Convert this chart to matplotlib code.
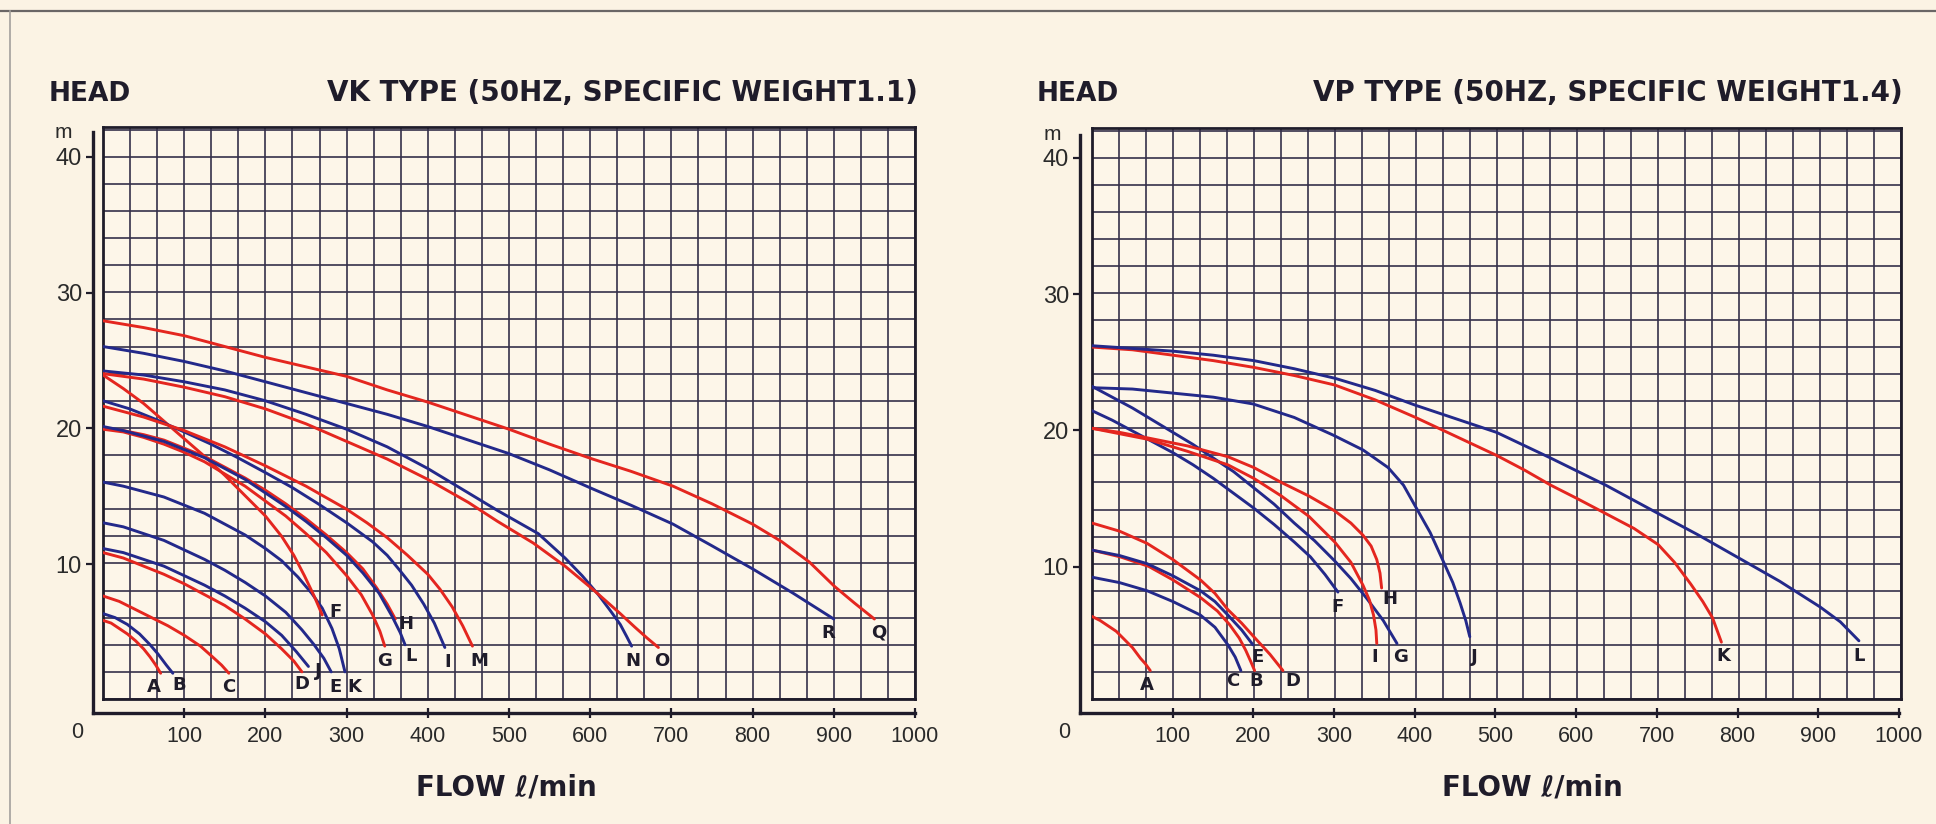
import matplotlib
matplotlib.use("Agg")
import matplotlib.pyplot as plt
from matplotlib.lines import Line2D
import numpy as np

# ---- VK type (50Hz, specific weight 1.1): (flow l/min, head m)
vk_a = [(0, 5.8), (10, 5.6), (20, 5.2), (30, 4.8), (40, 4.3), (50, 3.7), (58, 3.1), (65, 2.5), (71, 1.9)]
vk_b = [(0, 6.3), (15, 6.0), (30, 5.5), (45, 4.8), (58, 4.0), (68, 3.3), (78, 2.5), (86, 1.9)]
vk_c = [(0, 7.6), (20, 7.2), (40, 6.6), (60, 6.0), (80, 5.4), (100, 4.7), (120, 3.9), (135, 3.1),
        (146, 2.5), (155, 1.9)]
vk_d = [(0, 10.8), (25, 10.4), (50, 9.8), (75, 9.2), (100, 8.5), (125, 7.7), (150, 6.9), (175, 5.9),
        (200, 4.8), (220, 3.7), (235, 2.8), (245, 2.0)]
vk_j = [(0, 11.1), (25, 10.8), (50, 10.3), (75, 9.8), (100, 9.1), (125, 8.4), (150, 7.6), (175, 6.7),
        (200, 5.7), (220, 4.7), (238, 3.5), (253, 2.4)]
vk_e = [(0, 13.0), (25, 12.7), (50, 12.2), (75, 11.7), (100, 11.0), (125, 10.3), (150, 9.5), (175, 8.6),
        (200, 7.6), (225, 6.4), (245, 5.1), (260, 4.0), (272, 3.0), (281, 2.0)]
vk_k = [(0, 16.0), (25, 15.7), (50, 15.3), (75, 14.9), (100, 14.3), (125, 13.7), (150, 12.9), (175, 12.1),
        (200, 11.1), (220, 10.2), (240, 9.0), (257, 7.8), (270, 6.7), (282, 5.2), (291, 3.7), (298, 2.0)]
vk_f = [(0, 23.9), (25, 22.9), (50, 21.8), (75, 20.5), (100, 19.2), (125, 17.9), (150, 16.5), (175, 15.0),
        (200, 13.5), (220, 12.0), (235, 10.6), (248, 9.1), (260, 7.6), (270, 6.2)]
vk_g = [(0, 19.9), (25, 19.7), (50, 19.3), (75, 18.8), (100, 18.2), (125, 17.5), (150, 16.6), (175, 15.7),
        (200, 14.6), (225, 13.5), (250, 12.2), (275, 10.8), (300, 9.1), (318, 7.7), (332, 6.2), (341, 5.0),
        (347, 3.9)]
vk_h = [(0, 20.0), (25, 19.8), (50, 19.5), (75, 19.1), (100, 18.5), (125, 17.9), (150, 17.1), (175, 16.3),
        (200, 15.4), (225, 14.4), (250, 13.3), (275, 12.1), (300, 10.8), (320, 9.6), (337, 8.2), (350, 7.0),
        (360, 5.9)]
vk_l = [(0, 20.1), (25, 19.8), (50, 19.4), (75, 19.0), (100, 18.4), (125, 17.8), (150, 17.0), (175, 16.2),
        (200, 15.2), (225, 14.2), (250, 13.1), (275, 11.9), (300, 10.6), (320, 9.3), (340, 7.8), (356, 6.1),
        (366, 4.9), (372, 4.0)]
vk_i = [(0, 22.0), (33, 21.4), (66, 20.6), (100, 19.7), (133, 18.8), (166, 17.8), (200, 16.7), (233, 15.6),
        (265, 14.4), (300, 13.0), (332, 11.6), (350, 10.6), (364, 9.6), (380, 8.4), (395, 7.0), (408, 5.6),
        (421, 3.8)]
vk_m = [(0, 21.6), (50, 20.8), (100, 19.8), (150, 18.6), (200, 17.2), (250, 15.7), (300, 14.0), (325, 13.0),
        (350, 11.9), (375, 10.6), (400, 9.2), (415, 8.1), (430, 6.8), (443, 5.4), (455, 3.9)]
vk_n = [(0, 24.2), (50, 23.9), (100, 23.4), (150, 22.8), (200, 22.0), (250, 21.0), (300, 19.9), (350, 18.6),
        (400, 17.0), (450, 15.2), (486, 13.9), (536, 12.2), (569, 10.4), (590, 9.1), (610, 7.7), (625, 6.5),
        (637, 5.5), (645, 4.6), (651, 3.9)]
vk_o = [(0, 24.0), (50, 23.6), (100, 23.0), (150, 22.3), (200, 21.4), (250, 20.3), (300, 19.0), (350, 17.7),
        (400, 16.2), (450, 14.5), (486, 13.1), (530, 11.5), (569, 9.8), (603, 8.1), (637, 6.3), (655, 5.3),
        (670, 4.5), (684, 3.8)]
vk_r = [(0, 26.0), (50, 25.5), (100, 24.9), (150, 24.2), (200, 23.4), (250, 22.6), (300, 21.8), (350, 21.0),
        (400, 20.1), (450, 19.1), (500, 18.1), (550, 16.9), (603, 15.5), (650, 14.3), (702, 12.9), (750, 11.3),
        (800, 9.6), (850, 7.8), (900, 5.9)]
vk_q = [(0, 27.9), (50, 27.4), (100, 26.8), (150, 26.0), (200, 25.2), (250, 24.5), (300, 23.8), (350, 22.8),
        (400, 21.9), (450, 20.9), (500, 19.9), (550, 18.8), (603, 17.7), (650, 16.8), (702, 15.7), (750, 14.4),
        (800, 12.9), (836, 11.6), (870, 10.1), (901, 8.3), (925, 7.1), (950, 5.9)]

# ---- VP type (50Hz, specific weight 1.4)
vp_a = [(0, 6.1), (10, 5.8), (20, 5.4), (30, 5.0), (40, 4.4), (50, 3.8), (60, 3.0), (66, 2.6), (72, 2.1)]
vp_c = [(0, 9.0), (34, 8.6), (68, 8.0), (100, 7.2), (134, 6.2), (152, 5.3), (168, 4.0), (177, 3.1), (184, 2.1)]
vp_b = [(0, 11.0), (35, 10.5), (70, 9.8), (100, 8.8), (134, 7.5), (155, 6.5), (170, 5.5), (182, 4.5),
        (190, 3.6), (196, 2.8), (201, 2.1)]
vp_e = [(0, 11.0), (34, 10.6), (68, 10.0), (100, 9.1), (134, 8.0), (152, 7.2), (168, 6.2), (185, 5.1), (199, 4.0)]
vp_d = [(0, 13.0), (34, 12.4), (68, 11.5), (100, 10.3), (134, 8.8), (152, 7.8), (168, 6.6), (185, 5.6),
        (200, 4.6), (220, 3.3), (236, 2.1)]
vp_f = [(0, 21.3), (25, 20.6), (50, 19.8), (75, 19.0), (100, 18.2), (125, 17.3), (150, 16.3), (175, 15.2),
        (200, 14.1), (225, 12.9), (250, 11.6), (270, 10.5), (288, 9.2), (304, 7.9)]
vp_g = [(0, 23.1), (25, 22.3), (50, 21.5), (75, 20.6), (100, 19.7), (125, 18.8), (150, 17.8), (175, 16.8),
        (200, 15.6), (225, 14.4), (250, 13.0), (275, 11.7), (300, 10.2), (320, 8.9), (340, 7.4), (360, 5.8),
        (377, 4.1)]
vp_h = [(0, 20.0), (34, 19.7), (68, 19.3), (118, 18.7), (168, 17.9), (200, 17.1), (234, 16.0), (268, 15.0),
        (300, 13.9), (320, 13.0), (335, 12.1), (345, 11.3), (352, 10.3), (356, 9.3), (358, 8.2)]
vp_i = [(0, 20.0), (34, 19.6), (68, 19.2), (118, 18.3), (168, 17.3), (200, 16.3), (234, 15.0), (268, 13.5),
        (300, 11.6), (320, 10.1), (335, 8.4), (343, 7.3), (348, 6.2), (351, 5.1), (352, 4.1)]
vp_j = [(0, 23.0), (50, 22.9), (100, 22.6), (150, 22.3), (199, 21.8), (250, 20.8), (298, 19.5), (335, 18.4),
        (366, 17.1), (385, 15.8), (401, 14.1), (418, 12.3), (434, 10.2), (446, 8.6), (455, 7.1), (462, 5.8),
        (467, 4.6)]
vp_k = [(0, 26.0), (50, 25.8), (100, 25.4), (150, 25.0), (200, 24.5), (250, 23.9), (300, 23.2), (350, 22.1),
        (400, 20.8), (450, 19.4), (500, 18.0), (535, 16.9), (567, 15.8), (600, 14.8), (635, 13.7), (670, 12.6),
        (700, 11.4), (720, 10.1), (740, 8.5), (755, 7.2), (767, 6.0), (778, 4.2)]
vp_l = [(0, 26.1), (50, 25.9), (100, 25.7), (150, 25.4), (200, 25.0), (250, 24.4), (300, 23.7), (350, 22.8),
        (400, 21.7), (450, 20.7), (500, 19.7), (567, 17.8), (635, 15.8), (700, 13.7), (750, 12.1), (800, 10.4),
        (850, 8.7), (900, 6.8), (925, 5.7), (948, 4.3)]

head_ticks = [10, 20, 30, 40]
flow_ticks = [100, 200, 300, 400, 500, 600, 700, 800, 900, 1000]

vk_curves = [('A', vk_a), ('B', vk_b), ('C', vk_c), ('D', vk_d), ('J', vk_j), ('E', vk_e),
             ('K', vk_k), ('F', vk_f), ('G', vk_g), ('H', vk_h), ('L', vk_l), ('I', vk_i),
             ('M', vk_m), ('N', vk_n), ('O', vk_o), ('R', vk_r), ('Q', vk_q)]
vp_curves = [('A', vp_a), ('C', vp_c), ('B', vp_b), ('E', vp_e), ('D', vp_d), ('F', vp_f),
             ('G', vp_g), ('H', vp_h), ('I', vp_i), ('J', vp_j), ('K', vp_k), ('L', vp_l)]

# styling
W, H = 1936, 824
paper = '#fbf3e4'
grid_bg = '#fdf6e9'
ink = '#1f1c2a'
grid_col = '#35304a'
red = '#e4261f'
blue = '#23298a'

vk_red = set('ACDFGHMOQ')
vp_red = set('ABDHIK')

# label offsets from curve end (flow, head)
vk_offsets = {'A': (-8, -1.0), 'B': (8, -0.9), 'C': (0, -1.0), 'D': (0, -0.9), 'J': (12, -0.3),
              'E': (5, -1.1), 'K': (12, -1.1), 'F': (16, 0.2), 'G': (0, -1.1), 'L': (8, -0.8),
              'H': (13, -0.4), 'I': (3, -1.1), 'M': (8, -1.1), 'N': (2, -1.1), 'O': (4, -1.0),
              'R': (-7, -1.0), 'Q': (5, -1.0)}
vp_offsets = {'A': (-4, -1.1), 'C': (-10, -0.8), 'B': (2, -0.8), 'D': (12, -0.8), 'E': (6, -0.9),
              'F': (0, -1.1), 'I': (-2, -1.0), 'G': (4, -1.0), 'H': (10, -0.8), 'J': (5, -1.5),
              'K': (2, -1.0), 'L': (0, -1.1)}

fig = plt.figure(figsize=(W / 100, H / 100), dpi=100, facecolor=paper)


def add_box(l, t, r, b):
    return fig.add_axes([l / W, 1 - b / H, (r - l) / W, (b - t) / H])


def draw_panel(g, curves, reds, offsets, title):
    L, T, R, B = g['box']
    y0, ppm = g['y0'], g['ppm']
    ppx = (R - L) / 1000.0

    ax = add_box(L, T, R, B)
    ax.set_facecolor(grid_bg)
    ax.set_xlim(0, 1000)
    ax.set_ylim((y0 - B) / ppm, (y0 - T) / ppm)
    ax.set_xticks(np.linspace(0, 1000, 31))
    ax.set_yticks(np.arange(0, 43, 2))
    ax.tick_params(length=0, labelbottom=False, labelleft=False)
    ax.grid(True, color=grid_col, lw=1.2)
    ax.set_axisbelow(True)
    for s in ax.spines.values():
        s.set_linewidth(2.0)
        s.set_color(ink)

    for name, pts in curves:
        q, h = zip(*pts)
        col = red if name in reds else blue
        ax.plot(q, h, color=col, lw=2.1, solid_capstyle='round', solid_joinstyle='round', zorder=3)
        dq, dh = offsets[name]
        ax.text(q[-1] + dq, h[-1] + dh, name, ha='center', va='center',
                fontsize=13, fontweight='bold', color=ink, zorder=4)

    # detached L-shaped axis with the scale
    sx, st, xr, xl = g['spine_x'], g['spine_top'], g['xline_r'], g['xline_y']
    oax = add_box(sx, st, xr, xl)
    oax.patch.set_visible(False)
    oax.set_xlim((sx - L) / ppx, (xr - L) / ppx)
    oax.set_ylim((y0 - xl) / ppm, (y0 - st) / ppm)
    for side in ('top', 'right'):
        oax.spines[side].set_visible(False)
    for side in ('left', 'bottom'):
        oax.spines[side].set_linewidth(2.4)
        oax.spines[side].set_color(ink)
    oax.set_yticks(head_ticks)
    oax.set_yticklabels([str(v) for v in head_ticks])
    oax.set_xticks(flow_ticks)
    oax.set_xticklabels([str(v) for v in flow_ticks])
    oax.tick_params(axis='y', direction='out', length=5, width=1.6, color=ink, pad=3,
                    labelsize=17, labelcolor='#2a2a2a')
    oax.tick_params(axis='x', direction='inout', length=7, width=1.6, color=ink, pad=6,
                    labelsize=15.5, labelcolor='#2a2a2a')
    for lab in oax.get_xticklabels() + oax.get_yticklabels():
        lab.set_fontfamily('Liberation Sans')
    oax.annotate('0', xy=(0, (y0 - xl) / ppm), xytext=(g['zero_dx'], -20),
                 textcoords='offset pixels', ha='center', va='center',
                 fontsize=15.5, color='#2a2a2a', family='Liberation Sans')

    fig.text(g['m_xy'][0] / W, 1 - g['m_xy'][1] / H, 'm', ha='center', va='center',
             fontsize=15, color='#2a2a2a', family='Liberation Sans')
    fig.text(g['head_x'] / W, 1 - 101 / H, 'HEAD', ha='left', va='baseline',
             fontsize=19, fontweight='bold', color=ink)
    fig.text(g['title_r'] / W, 1 - 101 / H, title, ha='right', va='baseline',
             fontsize=20, fontweight='bold', color=ink)
    fig.text(g['flow_x'] / W, 1 - 787 / H, 'FLOW \u2113/min', ha='center', va='center',
             fontsize=20, fontweight='bold', color=ink)


vk_geom = dict(box=(103, 127, 915, 699), y0=700, ppm=13.58, spine_x=93, spine_top=132,
               xline_r=915, xline_y=713, zero_dx=-26, m_xy=(63, 133), head_x=49,
               title_r=918, flow_x=506)
vp_geom = dict(box=(1092, 128, 1901, 699), y0=703, ppm=13.63, spine_x=1080, spine_top=135,
               xline_r=1899, xline_y=713, zero_dx=-28, m_xy=(1052, 134), head_x=1037,
               title_r=1903, flow_x=1532)

draw_panel(vk_geom, vk_curves, vk_red, vk_offsets, 'VK TYPE (50HZ, SPECIFIC WEIGHT1.1)')
draw_panel(vp_geom, vp_curves, vp_red, vp_offsets, 'VP TYPE (50HZ, SPECIFIC WEIGHT1.4)')

# page frame of the scanned sheet
fig.add_artist(Line2D([0, 1], [1 - 11 / H, 1 - 11 / H], color='#6a6666', lw=1.6))
fig.add_artist(Line2D([10 / W, 10 / W], [0, 1 - 11 / H], color='#a3a09c', lw=1.2))

fig.savefig('out.png', dpi=100, facecolor=paper)
